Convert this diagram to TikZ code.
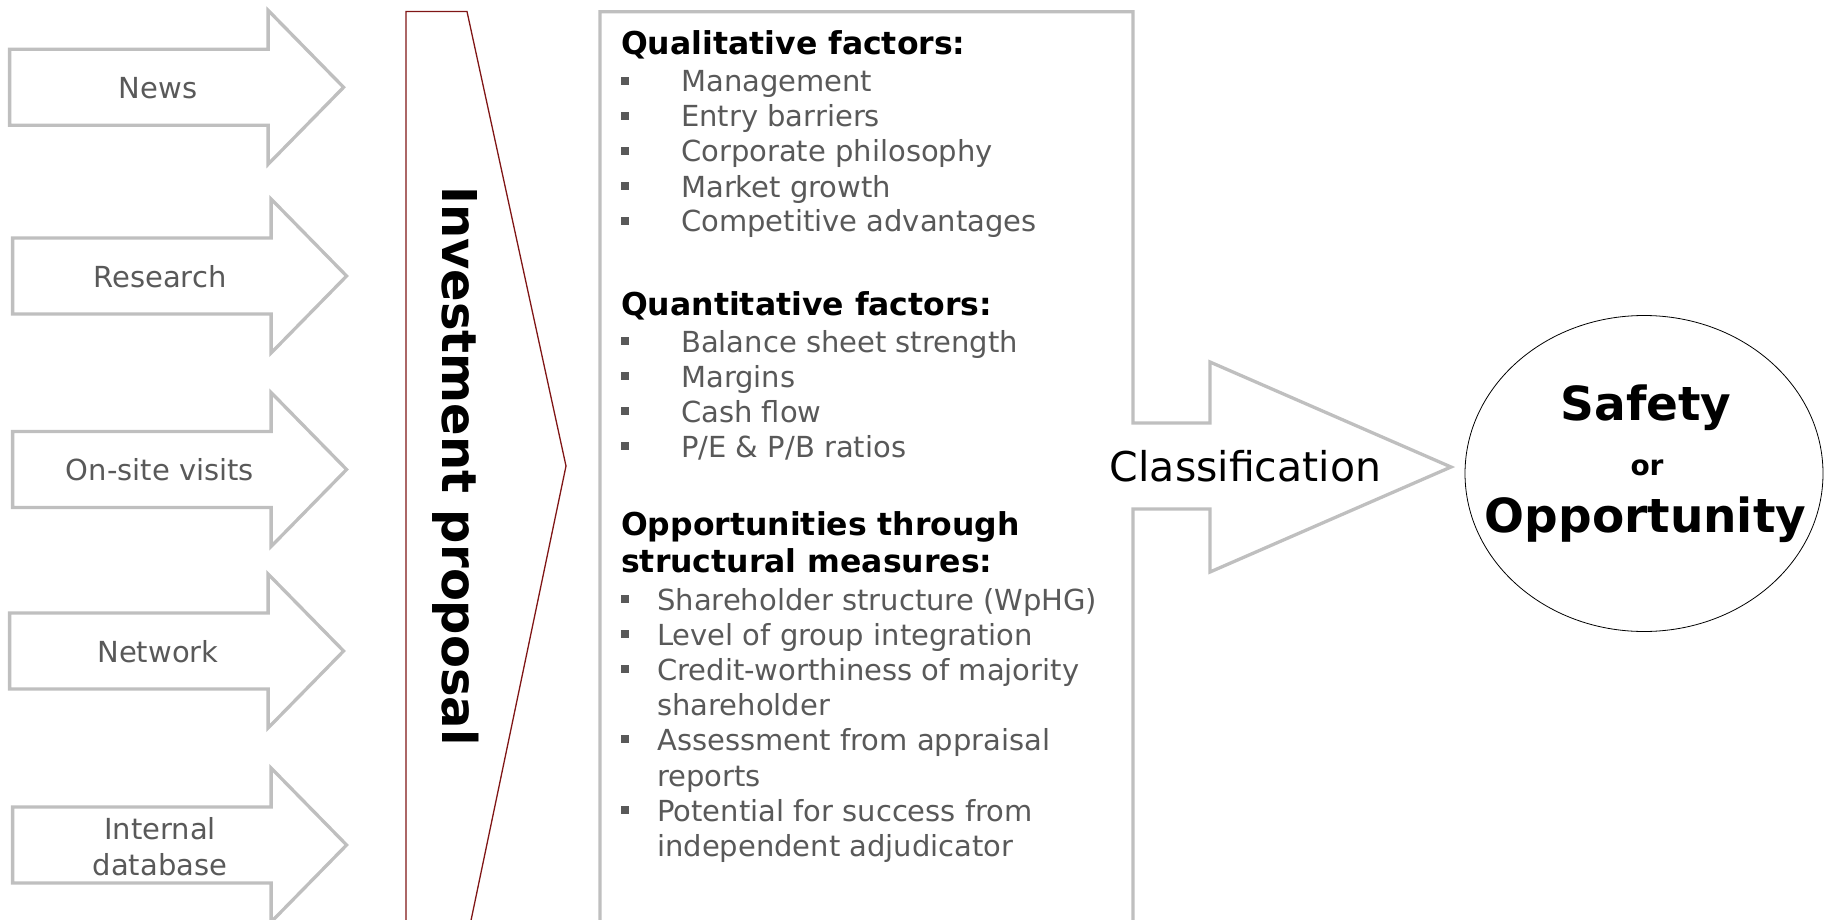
\documentclass[tikz,border=0pt]{standalone}
\usepackage{fontspec}
\setmainfont{DejaVu Sans}
\usetikzlibrary{shapes.geometric}
\definecolor{linegray}{RGB}{191,191,191}
\definecolor{textgray}{RGB}{89,89,89}
\definecolor{darkred}{RGB}{128,22,22}
\newcommand\srcarrow[2]{%
  \draw[inarrow] (#1,#2-38) -- (#1+258.5,#2-38) -- (#1+258.5,#2-77) -- (#1+334,#2)
    -- (#1+258.5,#2+77) -- (#1+258.5,#2+38) -- (#1,#2+38) -- cycle;}
\tikzset{
  inarrow/.style={draw=linegray, line width=3.3pt, line join=miter},
  lbl/.style={inner sep=0pt, anchor=base, text=textgray, font=\fontsize{29}{36}\selectfont},
  headtxt/.style={inner sep=0pt, anchor=base west, font=\bfseries\fontsize{31.5}{38}\selectfont},
  itemtxt/.style={inner sep=0pt, anchor=base west, text=textgray, font=\fontsize{29}{35}\selectfont},
  bul/.style={fill=textgray, inner sep=0pt, minimum size=7.5pt},
  bigb/.style={inner sep=0pt, anchor=base, font=\bfseries\fontsize{47}{50}\selectfont},
}
\begin{document}
\begin{tikzpicture}[x=1pt,y=-1pt]
\useasboundingbox (0,0) rectangle (1825,920);
\clip (0,0) rectangle (1825,920);

% source arrows
\srcarrow{9.6}{87.3}
\srcarrow{12.6}{276}
\srcarrow{12.6}{469.5}
\srcarrow{9.6}{651}
\srcarrow{12.6}{845}
\node[lbl] (news) at (158,99) {News};
\node[lbl] (research) at (160,287) {Research};
\node[lbl] (onsite) at (160,480.7) {On-site visits};
\node[lbl] (network) at (158,662) {Network};
\node[lbl] (intdb1) at (160,839) {Internal};
\node[lbl] (intdb2) at (160,875) {database};

% investment proposal shape
\draw[darkred, line width=1.3pt, line join=miter] (406,930) -- (406,11.5) -- (467,11.5) -- (566,466) -- (469,930);
\node[inner sep=0pt, anchor=base, rotate=-90, font=\bfseries\fontsize{48}{50}\selectfont] (invest) at (442,466) {Investment proposal};

% middle box with classification arrow
\draw[inarrow] (600,930) -- (600,11.7) -- (1133,11.7) -- (1133,423) -- (1210,423) -- (1210,362)
  -- (1451,467) -- (1210,572) -- (1210,509) -- (1133,509) -- (1133,930);
\node[inner sep=0pt, anchor=base, font=\fontsize{41}{48}\selectfont] (cls) at (1245.5,481.7) {Classification};

% qualitative
\node[headtxt] (h1) at (621,55) {Qualitative factors:};
\node[bul] (b11) at (625,81) {};
\node[itemtxt] (q1) at (681,92) {Management};
\node[bul] (b12) at (625,116) {};
\node[itemtxt] (q2) at (681,127) {Entry barriers};
\node[bul] (b13) at (625,151) {};
\node[itemtxt] (q3) at (681,162) {Corporate philosophy};
\node[bul] (b14) at (625,186) {};
\node[itemtxt] (q4) at (681,197) {Market growth};
\node[bul] (b15) at (625,221) {};
\node[itemtxt] (q5) at (681,232) {Competitive advantages};

% quantitative
\node[headtxt] (h2) at (621,315) {Quantitative factors:};
\node[bul] (b21) at (625,341) {};
\node[itemtxt] (n1) at (681,352) {Balance sheet strength};
\node[bul] (b22) at (625,376) {};
\node[itemtxt] (n2) at (681,387) {Margins};
\node[bul] (b23) at (625,411) {};
\node[itemtxt] (n3) at (681,422) {Cash flow};
\node[bul] (b24) at (625,446) {};
\node[itemtxt] (n4) at (681,457) {P/E \& P/B ratios};

% structural
\node[headtxt] (h3a) at (621,535) {Opportunities through};
\node[headtxt] (h3b) at (621,572) {structural measures:};
\node[bul] (b31) at (625,599) {};
\node[itemtxt] (s1) at (657,610) {Shareholder structure (WpHG)};
\node[bul] (b32) at (625,634) {};
\node[itemtxt] (s2) at (657,645) {Level of group integration};
\node[bul] (b33) at (625,669) {};
\node[itemtxt] (s3) at (657,680) {Credit-worthiness of majority};
\node[itemtxt] (s4) at (657,715) {shareholder};
\node[bul] (b34) at (625,739) {};
\node[itemtxt] (s5) at (657,750) {Assessment from appraisal};
\node[itemtxt] (s6) at (657,786) {reports};
\node[bul] (b35) at (625,810) {};
\node[itemtxt] (s7) at (657,821) {Potential for success from};
\node[itemtxt] (s8) at (657,856) {independent adjudicator};

% result ellipse
\node[draw=black, line width=0.8pt, ellipse, minimum width=358pt, minimum height=316pt, inner sep=0pt] (result) at (1644,473.5) {};
\node[bigb] (safety) at (1646,420) {Safety};
\node[inner sep=0pt, anchor=base, font=\bfseries\fontsize{28}{30}\selectfont] (or) at (1647,475) {or};
\node[bigb] (opp) at (1645.5,532) {Opportunity};
\end{tikzpicture}
\end{document}
